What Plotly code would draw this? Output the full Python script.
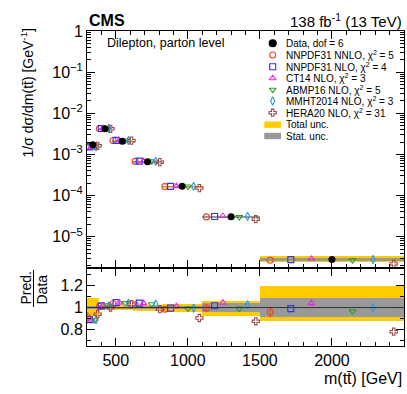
import plotly.graph_objects as go

# bin edges of m(tt) in GeV
edges = [300, 380, 470, 620, 820, 1100, 1500, 2500]

# normalised cross section 1/sigma dsigma/dm [GeV^-1]
data_xsec = [1.72e-3, 4.2e-3, 2.1e-3, 6.6e-4, 1.68e-4, 3.05e-5, 2.8e-6]

# relative uncertainties of the data
tot_up = [0.085, 0.025, 0.02, 0.02, 0.035, 0.06, 0.20]
tot_dn = [0.08, 0.025, 0.02, 0.03, 0.04, 0.075, 0.12]
stat_unc = [0.015, 0.008, 0.008, 0.01, 0.015, 0.04, 0.086]

# prediction / data
r_nnpdf_nnlo = [0.91, 1.01, 1.035, 1.025, 0.985, 0.995, 0.96]
r_nnpdf_nlo = [0.89, 1.015, 1.045, 1.04, 0.995, 1.016, 0.99]
r_ct14 = [0.89, 1.02, 1.045, 1.04, 1.01, 1.044, 1.04]
r_abmp16 = [0.885, 1.02, 1.04, 1.03, 0.99, 0.99, 0.965]
r_mmht = [0.89, 1.015, 1.04, 1.03, 0.995, 1.025, 1.0]
r_hera = [0.94, 1.0, 1.03, 0.985, 0.905, 0.875, 0.78]
nnlo_err = [0.05, 0.01, 0.01, 0.01, 0.01, 0.035, 0.05]

labels = ["NNPDF31 NNLO", "NNPDF31 NLO", "CT14 NLO", "ABMP16 NLO", "MMHT2014 NLO", "HERA20 NLO"]
chi2 = [5, 4, 3, 5, 3, 31]

FONT = "Liberation Sans, Arial, sans-serif"

centers = [(a + b) / 2 for a, b in zip(edges[:-1], edges[1:])]
widths = [b - a for a, b in zip(edges[:-1], edges[1:])]


def shifted(k):
    # position of the k-th marker (0..6) inside each bin, data is k=3
    return [a + (k + 0.5) / 7 * w for a, w in zip(edges[:-1], widths)]


preds = [
    (r_nnpdf_nnlo, "circle-open", "#f0402a", 0),
    (r_nnpdf_nlo, "square-open", "#3232e6", 1),
    (r_ct14, "triangle-up-open", "#ee22ee", 2),
    (r_abmp16, "triangle-down-open", "#2f9e2f", 4),
    (r_mmht, "diamond-tall-open", "#2c9ad8", 5),
    (r_hera, "cross-open", "#a04848", 6),
]

YEL = "#ffcc00"
GRY = "#999999"
MS = 6

fig = go.Figure()

# uncertainty bands, top panel
fig.add_trace(go.Bar(
    x=centers, width=widths,
    base=[d * (1 - dn) for d, dn in zip(data_xsec, tot_dn)],
    y=[d * (u + dn) for d, u, dn in zip(data_xsec, tot_up, tot_dn)],
    marker=dict(color=YEL, line=dict(width=0)), xaxis="x", yaxis="y", showlegend=False,
))
fig.add_trace(go.Bar(
    x=centers, width=widths,
    base=[d * (1 - s) for d, s in zip(data_xsec, stat_unc)],
    y=[d * 2 * s for d, s in zip(data_xsec, stat_unc)],
    marker=dict(color=GRY, line=dict(width=0)), xaxis="x", yaxis="y", showlegend=False,
))
# uncertainty bands, ratio panel
fig.add_trace(go.Bar(
    x=centers, width=widths,
    base=[1 - dn for dn in tot_dn],
    y=[u + dn for u, dn in zip(tot_up, tot_dn)],
    marker=dict(color=YEL, line=dict(width=0)), xaxis="x2", yaxis="y2", showlegend=False,
))
fig.add_trace(go.Bar(
    x=centers, width=widths,
    base=[1 - s for s in stat_unc],
    y=[2 * s for s in stat_unc],
    marker=dict(color=GRY, line=dict(width=0)), xaxis="x2", yaxis="y2", showlegend=False,
))

# predictions
for ratio, sym, col, k in preds:
    err = nnlo_err if k == 0 else None
    fig.add_trace(go.Scatter(
        x=shifted(k), y=[d * r for d, r in zip(data_xsec, ratio)], mode="markers",
        marker=dict(symbol=sym, size=MS, color=col, line=dict(width=1.1, color=col)),
        xaxis="x", yaxis="y", showlegend=False,
    ))
    fig.add_trace(go.Scatter(
        x=shifted(k), y=ratio, mode="markers",
        marker=dict(symbol=sym, size=MS, color=col, line=dict(width=1.1, color=col)),
        error_y=dict(type="data", array=err, color=col, thickness=1, width=0) if err else None,
        xaxis="x2", yaxis="y2", showlegend=False,
    ))

# data
fig.add_trace(go.Scatter(
    x=centers, y=data_xsec, mode="markers",
    marker=dict(symbol="circle", size=7, color="black"),
    xaxis="x", yaxis="y", showlegend=False,
))

# --- layout in pixels of the 407x394 canvas ---
L, R, T, B = 87, 404, 31, 346


def px_x(p):
    return (p - L) / (R - L)


def px_y(p):
    return (B - p) / (B - T)


rows = [43.3, 55, 66.7, 78.3, 89.7, 101, 112.7, 124.7, 136]
leg_sym = ["circle"] + [p[1] for p in preds]
leg_col = ["black"] + [p[2] for p in preds]
leg_txt = ["Data, dof = 6"] + [f"{l}, χ<sup>2</sup> = {c}" for l, c in zip(labels, chi2)]
for i, (s, c) in enumerate(zip(leg_sym, leg_col)):
    fig.add_trace(go.Scatter(
        x=[px_x(272.7)], y=[px_y(rows[i])], mode="markers",
        marker=dict(symbol=s, size=MS if i else 7, color=c, line=dict(width=1.1, color=c)),
        xaxis="x3", yaxis="y3", showlegend=False, hoverinfo="skip",
    ))
leg_txt += ["Total unc.", "Stat. unc."]

shapes = []
for i, col in zip([7, 8], [YEL, GRY]):
    shapes.append(dict(type="rect", xref="paper", yref="paper",
                       x0=px_x(264.3), x1=px_x(281), y0=px_y(rows[i] - 3.2), y1=px_y(rows[i] + 3.2),
                       fillcolor=col, line=dict(width=0)))
# line at ratio 1
shapes.append(dict(type="line", xref="x2", yref="y2", x0=300, x1=2500, y0=1, y1=1,
                   line=dict(color="#333333", width=1)))
# fraction bar for Pred./Data
shapes.append(dict(type="line", xref="paper", yref="paper", x0=px_x(33.5), x1=px_x(33.5),
                   y0=px_y(307), y1=px_y(270), line=dict(color="black", width=1)))

annotations = []
for i, t in enumerate(leg_txt):
    annotations.append(dict(x=px_x(284), y=px_y(rows[i]), xref="paper", yref="paper", text=t,
                            showarrow=False, xanchor="left", yanchor="middle",
                            font=dict(family=FONT, size=10, color="black")))
annotations += [
    dict(x=0, y=px_y(21), xref="paper", yref="paper", text="<b>CMS</b>", showarrow=False,
         xanchor="left", yanchor="middle", font=dict(family=FONT, size=16, color="black")),
    dict(x=1, y=px_y(21), xref="paper", yref="paper", text="138 fb<sup>-1</sup> (13 TeV)",
         showarrow=False, xanchor="right", yanchor="middle",
         font=dict(family=FONT, size=15, color="black")),
    dict(x=px_x(105), y=px_y(43), xref="paper", yref="paper", text="Dilepton, parton level",
         showarrow=False, xanchor="left", yanchor="middle",
         font=dict(family=FONT, size=12.5, color="black")),
    dict(x=px_x(27), y=px_y(27), xref="paper", yref="paper",
         text="1/σ dσ/dm(tt̄) [GeV<sup>-1</sup>]", textangle=-90, showarrow=False,
         xanchor="center", yanchor="top", font=dict(family=FONT, size=14, color="black")),
    dict(x=1, y=px_y(378), xref="paper", yref="paper", text="m(tt̄) [GeV]", showarrow=False,
         xanchor="right", yanchor="middle", font=dict(family=FONT, size=16, color="black")),
    dict(x=px_x(25), y=px_y(288.5), xref="paper", yref="paper", text="Pred.", textangle=-90,
         showarrow=False, xanchor="center", yanchor="middle",
         font=dict(family=FONT, size=14, color="black")),
    dict(x=px_x(41.5), y=px_y(290), xref="paper", yref="paper", text="Data", textangle=-90,
         showarrow=False, xanchor="center", yanchor="middle",
         font=dict(family=FONT, size=14, color="black")),
]

split = (B - 268) / (B - T)

ax_common = dict(showline=True, linecolor="black", linewidth=1, mirror="ticks",
                 ticks="inside", tickcolor="black", ticklen=8, showgrid=False, zeroline=False,
                 tickfont=dict(family=FONT, size=16, color="black"))
x_major = [500, 1000, 1500, 2000]
x_minor = [v for v in range(400, 2500, 100) if v not in x_major]
log_minor = [k * 10 ** e for e in range(-6, 0) for k in range(2, 10)]

fig.update_layout(
    width=407, height=394,
    margin=dict(l=L, r=407 - R, t=T, b=394 - B),
    paper_bgcolor="white", plot_bgcolor="rgba(0,0,0,0)",
    barmode="overlay", bargap=0,
    showlegend=False,
    shapes=shapes, annotations=annotations,
    xaxis=dict(**ax_common, range=[300, 2500], domain=[0, 1], anchor="y",
               tickmode="array", tickvals=x_major, showticklabels=False,
               minor=dict(tickmode="array", tickvals=x_minor, ticks="inside", ticklen=4,
                          tickcolor="black")),
    yaxis=dict(**ax_common, type="log", range=[-5.76, 0.0], domain=[split, 1], anchor="x",
               tickmode="array", tickvals=[1e-5, 1e-4, 1e-3, 1e-2, 1e-1, 1],
               ticktext=["10<sup>−5</sup>", "10<sup>−4</sup>", "10<sup>−3</sup>",
                         "10<sup>−2</sup>", "10<sup>−1</sup>", "1"],
               minor=dict(tickmode="array", tickvals=log_minor, ticks="inside", ticklen=4,
                          tickcolor="black")),
    xaxis2=dict(**ax_common, range=[300, 2500], domain=[0, 1], anchor="y2",
                tickmode="array", tickvals=x_major,
                minor=dict(tickmode="array", tickvals=x_minor, ticks="inside", ticklen=4,
                           tickcolor="black")),
    yaxis2=dict(**ax_common, range=[0.65, 1.36], domain=[0, split], anchor="x2",
                tickmode="array", tickvals=[0.8, 1, 1.2], ticktext=["0.8", "1", "1.2"],
                minor=dict(tickmode="array", tickvals=[0.7, 0.9, 1.1, 1.3], ticks="inside",
                           ticklen=4, tickcolor="black")),
    xaxis3=dict(range=[0, 1], domain=[0, 1], anchor="y3", visible=False),
    yaxis3=dict(range=[0, 1], domain=[0, 1], anchor="x3", visible=False),
)

# the page is exactly the figure size: drop the default body margin
fig.write_html("out.html", config={"displayModeBar": False},
               post_script="document.body.style.margin='0';"
                           "document.body.style.overflow='hidden';")
